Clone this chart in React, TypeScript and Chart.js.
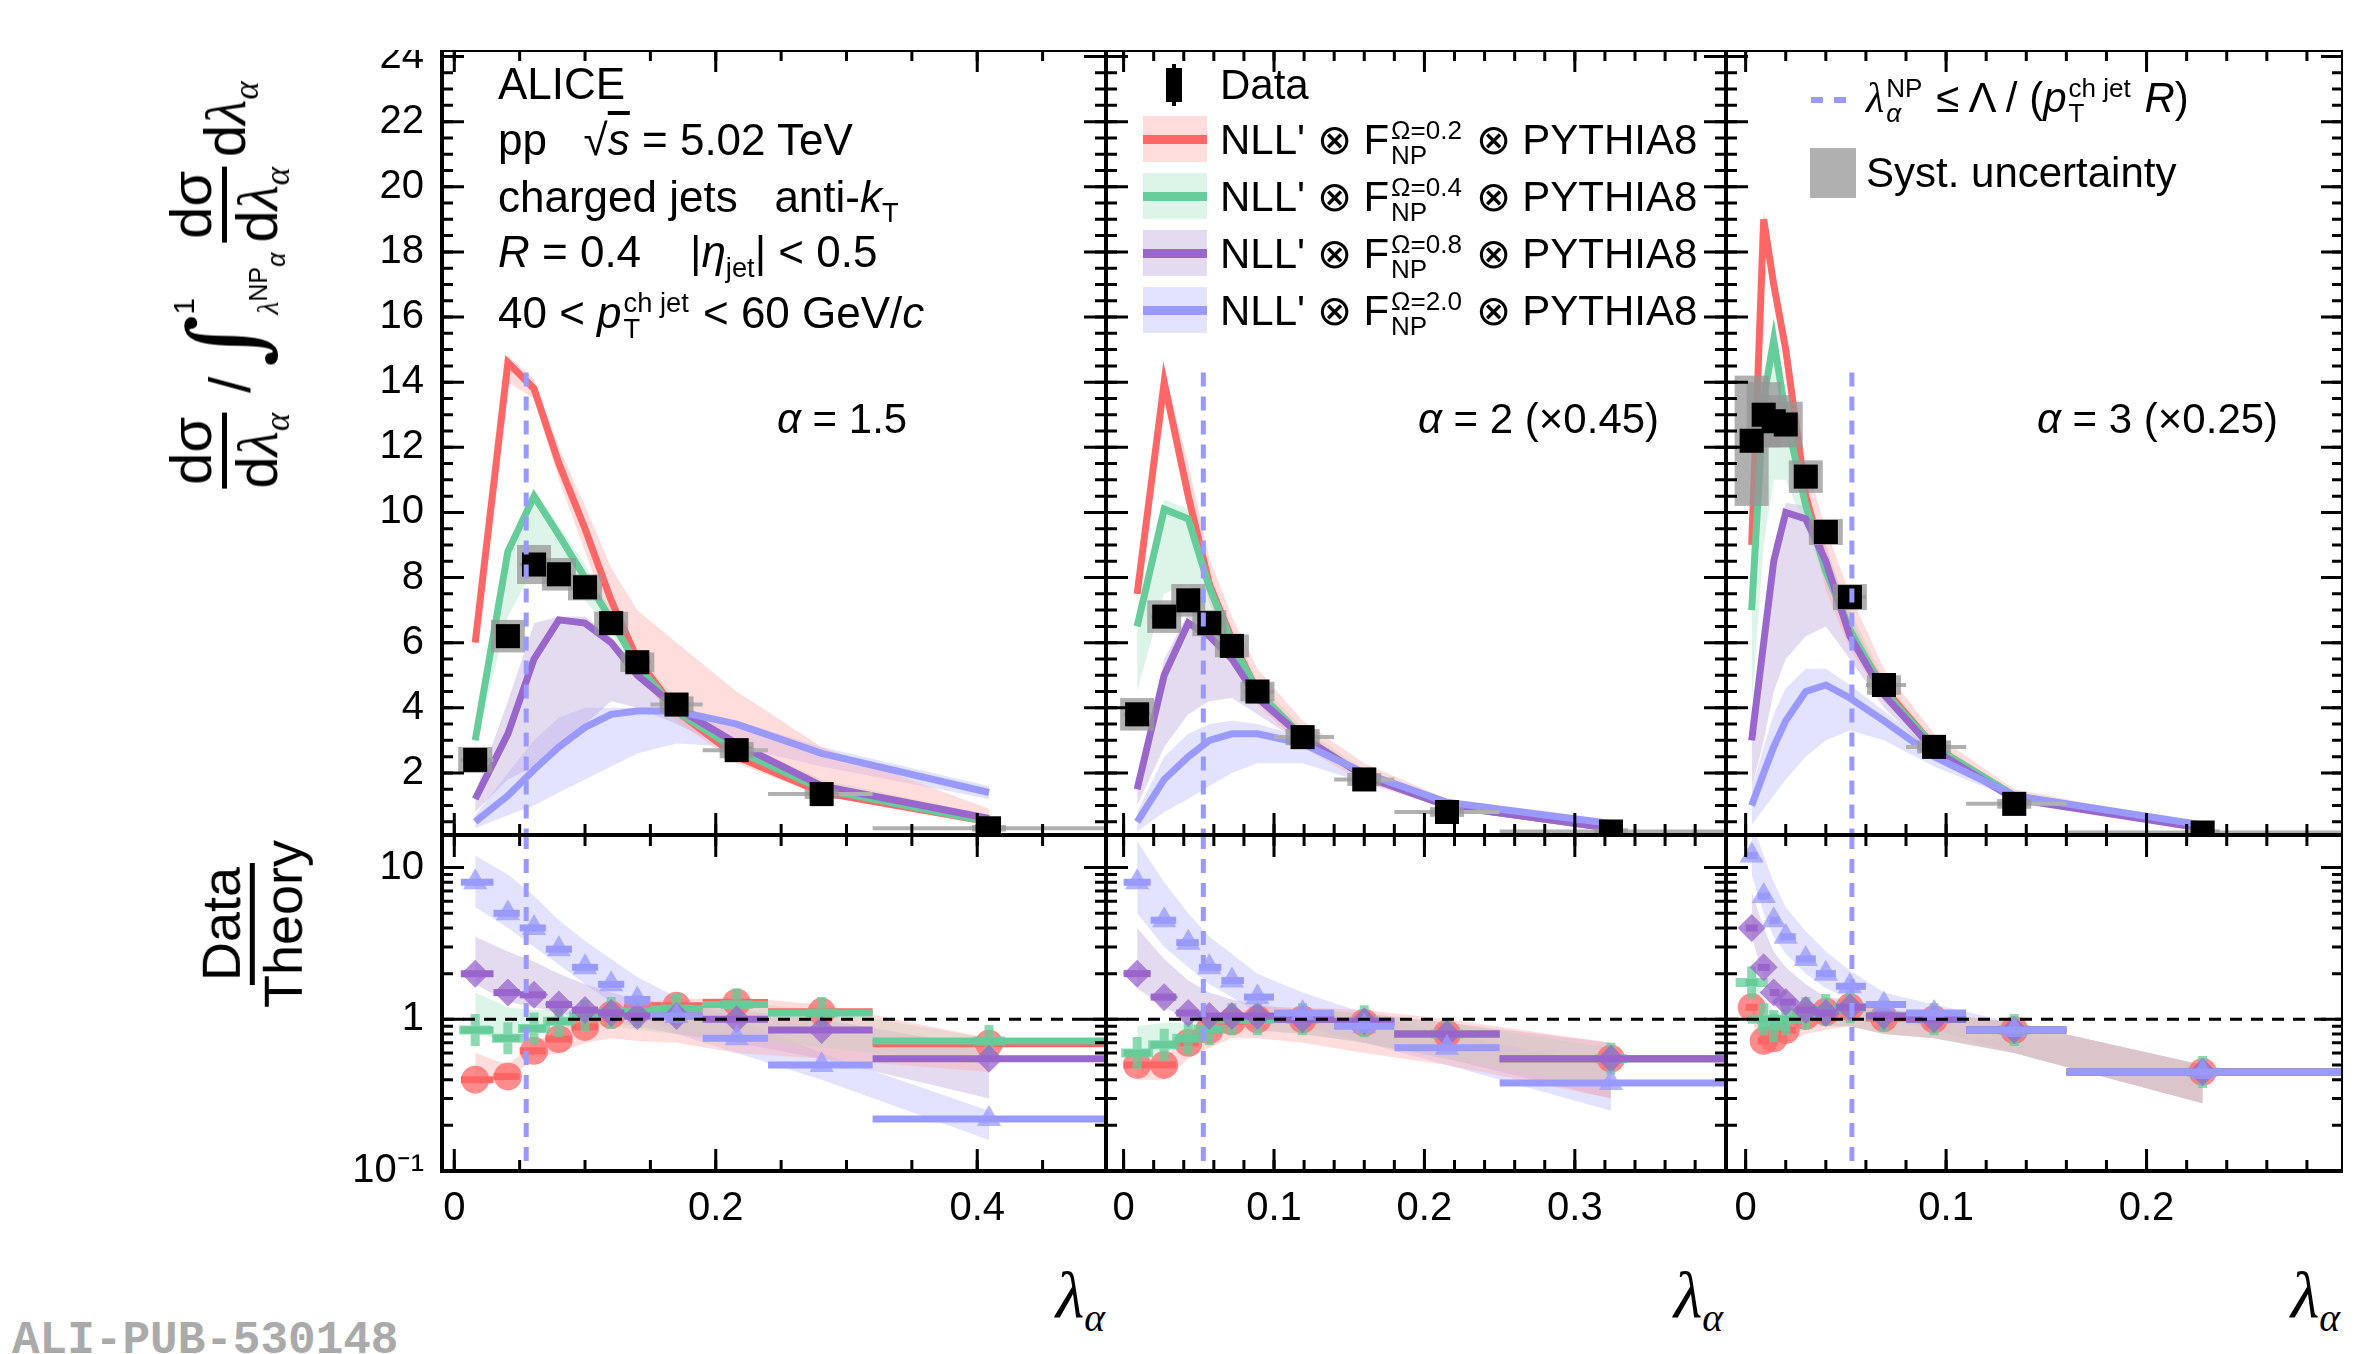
import React, { useEffect, useRef } from 'react';
import { Chart, registerables } from 'chart.js';
Chart.register(...registerables);

const NARROW = '"Liberation Sans Narrow", "Liberation Sans", Arial, sans-serif';
const SANS = '"Liberation Sans", Arial, sans-serif';
const RED = '#ff6666', GREEN = '#66cc99', PURPLE = '#9966cc', BLUE = '#9999ff';
const BANDS = ['rgba(255,170,170,0.40)', 'rgba(170,230,200,0.40)', 'rgba(190,165,220,0.40)', 'rgba(185,185,255,0.40)'];
const COLS = [RED, GREEN, PURPLE, BLUE];
const MARK = ['rgba(255,102,102,0.75)', 'rgba(102,204,153,0.75)', 'rgba(153,102,204,0.75)', 'rgba(153,153,255,0.75)'];

// ---------- Panel 1: alpha = 1.5 ----------
const x1 = [0.016, 0.041, 0.061, 0.080, 0.100, 0.120, 0.140, 0.170, 0.216, 0.281, 0.409];
const edges1 = [0.005, 0.03, 0.05, 0.07, 0.09, 0.11, 0.13, 0.15, 0.19, 0.24, 0.32, 0.5];
const data1 = [2.4, 6.2, 8.4, 8.1, 7.7, 6.6, 5.4, 4.1, 2.7, 1.35, 0.3];
const syst1 = [0.4, 0.5, 0.6, 0.5, 0.4, 0.35, 0.3, 0.25, 0.25, 0.15, 0.1];
const red1 = [6.0, 14.6, 13.8, 11.5, 9.5, 7.3, 5.5, 3.9, 2.5, 1.4, 0.5];
const red1Up = [6.3, 14.8, 14.1, 12.0, 10.2, 8.3, 7.0, 6.0, 4.5, 2.8, 0.9];
const red1Lo = [5.8, 14.0, 13.5, 11.0, 8.8, 6.6, 5.0, 3.6, 2.3, 1.3, 0.4];
const green1 = [3.0, 8.8, 10.5, 9.3, 8.0, 6.7, 5.3, 3.9, 2.7, 1.5, 0.5];
const green1Up = [3.2, 9.0, 10.7, 9.6, 8.4, 7.0, 5.6, 4.3, 3.0, 1.8, 0.7];
const green1Lo = [2.8, 6.8, 8.3, 8.0, 7.3, 6.3, 5.0, 3.7, 2.5, 1.4, 0.5];
const purple1 = [1.2, 3.2, 5.5, 6.7, 6.6, 6.0, 5.0, 4.0, 2.9, 1.6, 0.6];
const purple1Up = [1.4, 4.2, 6.6, 6.8, 6.8, 6.2, 5.2, 4.1, 3.0, 1.7, 0.7];
const purple1Lo = [0.8, 1.8, 2.2, 2.8, 3.5, 4.2, 4.0, 3.5, 2.6, 1.5, 0.5];
const blue1 = [0.5, 1.3, 2.1, 2.8, 3.4, 3.8, 3.9, 3.9, 3.5, 2.6, 1.4];
const blue1Up = [0.7, 2.0, 3.0, 3.7, 4.0, 4.0, 4.0, 3.9, 3.6, 2.8, 1.6];
const blue1Lo = [0.3, 0.7, 1.0, 1.4, 1.8, 2.2, 2.6, 2.9, 2.8, 2.2, 1.2];
const rRed1 = [0.4, 0.42, 0.62, 0.74, 0.89, 1.07, 1.17, 1.23, 1.29, 1.12, 0.69];
const rRed1Up = [0.6, 0.5, 0.7, 0.85, 1.0, 1.15, 1.3, 1.35, 1.4, 1.25, 0.75];
const rRed1Lo = [0.38, 0.4, 0.55, 0.6, 0.7, 0.75, 0.72, 0.7, 0.6, 0.55, 0.45];
const rGreen1 = [0.85, 0.75, 0.87, 0.97, 1.05, 1.1, 1.12, 1.17, 1.25, 1.1, 0.72];
const rGreen1Up = [1.5, 1.2, 1.15, 1.15, 1.15, 1.2, 1.2, 1.25, 1.3, 1.15, 0.75];
const rGreen1Lo = [0.8, 0.72, 0.8, 0.85, 0.9, 0.9, 0.85, 0.8, 0.75, 0.65, 0.5];
const rPurple1 = [2.0, 1.5, 1.45, 1.25, 1.15, 1.1, 1.05, 1.05, 1.0, 0.85, 0.55];
const rPurple1Up = [3.5, 2.8, 2.4, 2.0, 1.7, 1.5, 1.35, 1.25, 1.15, 1.0, 0.65];
const rPurple1Lo = [1.7, 1.3, 1.2, 1.1, 1.0, 0.95, 0.9, 0.8, 0.7, 0.55, 0.3];
const rBlue1 = [8, 5, 4, 2.9, 2.2, 1.7, 1.35, 1.05, 0.75, 0.5, 0.22];
const rBlue1Up = [12, 9, 6.5, 4.5, 3.3, 2.5, 1.9, 1.4, 1.0, 0.6, 0.25];
const rBlue1Lo = [5.5, 4, 3, 2.3, 1.7, 1.3, 1.05, 0.8, 0.6, 0.4, 0.16];

// ---------- Panel 2: alpha = 2 (x0.45) ----------
const x2 = [0.009, 0.027, 0.043, 0.057, 0.072, 0.089, 0.119, 0.160, 0.215, 0.324];
const edges2 = [0, 0.018, 0.035, 0.05, 0.065, 0.08, 0.1, 0.14, 0.18, 0.25, 0.4];
const data2 = [3.8, 6.8, 7.3, 6.6, 5.9, 4.5, 3.1, 1.8, 0.8, 0.2];
const syst2 = [0.5, 0.5, 0.5, 0.4, 0.35, 0.3, 0.25, 0.2, 0.15, 0.1];
const red2 = [7.5, 14.0, 10.5, 7.8, 6.1, 4.5, 3.1, 1.9, 1.0, 0.3];
const red2Up = [8, 14.3, 11.5, 8.6, 6.8, 5.2, 3.6, 2.3, 1.2, 0.5];
const red2Lo = [7.2, 13.6, 10, 7.2, 5.6, 4.1, 2.8, 1.7, 0.9, 0.25];
const green2 = [6.5, 10.1, 9.8, 7.7, 6.0, 4.5, 3.1, 1.9, 1.0, 0.3];
const green2Up = [6.8, 10.4, 10.1, 8.1, 6.4, 4.8, 3.4, 2.1, 1.1, 0.4];
const green2Lo = [4.5, 7.5, 7.8, 6.8, 5.6, 4.3, 3.0, 1.8, 0.9, 0.25];
const purple2 = [1.5, 5.0, 6.6, 6.2, 5.5, 4.3, 3.1, 1.9, 1.0, 0.3];
const purple2Up = [1.8, 5.5, 6.9, 6.6, 5.8, 4.6, 3.3, 2.0, 1.1, 0.4];
const purple2Lo = [1.0, 2.8, 3.8, 4.2, 4.3, 3.8, 2.9, 1.8, 0.9, 0.25];
const blue2 = [0.5, 1.8, 2.5, 3.0, 3.2, 3.2, 2.9, 2.0, 1.1, 0.45];
const blue2Up = [0.8, 2.5, 3.2, 3.5, 3.6, 3.5, 3.1, 2.1, 1.2, 0.5];
const blue2Lo = [0.2, 0.8, 1.2, 1.6, 2.0, 2.3, 2.3, 1.7, 1.0, 0.4];
const rRed2 = [0.5, 0.5, 0.7, 0.85, 0.97, 1.0, 1.0, 0.95, 0.8, 0.55];
const rRed2Up = [0.55, 0.55, 0.8, 1.0, 1.1, 1.2, 1.2, 1.15, 1.0, 0.7];
const rRed2Lo = [0.4, 0.4, 0.55, 0.65, 0.75, 0.75, 0.7, 0.6, 0.5, 0.3];
const rGreen2 = [0.6, 0.68, 0.75, 0.86, 1.0, 1.0, 1.0, 0.97, 0.8, 0.55];
const rGreen2Up = [0.9, 0.95, 0.95, 1.0, 1.1, 1.15, 1.15, 1.1, 0.95, 0.65];
const rGreen2Lo = [0.55, 0.6, 0.68, 0.78, 0.85, 0.85, 0.8, 0.7, 0.55, 0.35];
const rPurple2 = [2.0, 1.4, 1.1, 1.05, 1.05, 1.05, 1.0, 0.97, 0.8, 0.55];
const rPurple2Up = [4, 2.5, 1.8, 1.5, 1.35, 1.25, 1.15, 1.1, 0.95, 0.7];
const rPurple2Lo = [1.6, 1.2, 1.0, 0.9, 0.9, 0.85, 0.8, 0.7, 0.55, 0.3];
const rBlue2 = [8, 4.5, 3.2, 2.2, 1.8, 1.4, 1.1, 0.9, 0.65, 0.38];
const rBlue2Up = [15, 8, 5, 3.5, 2.7, 2.0, 1.5, 1.1, 0.8, 0.5];
const rBlue2Lo = [5, 3, 2.2, 1.7, 1.4, 1.1, 0.9, 0.7, 0.5, 0.25];

// ---------- Panel 3: alpha = 3 (x0.25) ----------
const x3 = [0.003, 0.009, 0.014, 0.020, 0.030, 0.040, 0.052, 0.069, 0.094, 0.134, 0.228];
const edges3 = [0, 0.006, 0.012, 0.017, 0.025, 0.035, 0.045, 0.06, 0.08, 0.11, 0.16, 0.3];
const data3 = [12.2, 13.0, 12.8, 12.7, 11.1, 9.4, 7.4, 4.7, 2.8, 1.05, 0.17];
const syst3 = [2, 1, 0.8, 0.7, 0.5, 0.4, 0.4, 0.3, 0.2, 0.15, 0.1];
const red3 = [9, 19, 17, 15, 10.5, 8.3, 6.3, 4.6, 2.8, 1.3, 0.3];
const red3Up = [10, 19.3, 17.5, 15.5, 11.5, 9.5, 7.5, 5.2, 3.2, 1.5, 0.4];
const red3Lo = [8, 18.5, 16.5, 14.5, 10, 7.6, 5.8, 4.2, 2.6, 1.2, 0.25];
const green3 = [7, 13.5, 15.3, 13, 10.2, 8.2, 6.4, 4.5, 2.8, 1.3, 0.35];
const green3Up = [7.5, 14, 15.6, 13.5, 10.8, 8.8, 7, 4.9, 3, 1.4, 0.4];
const green3Lo = [4, 9, 11, 11, 9.5, 7.8, 6.2, 4.3, 2.7, 1.2, 0.3];
const purple3 = [3, 6, 8.5, 10, 9.8, 8.5, 6.2, 4.4, 2.7, 1.2, 0.3];
const purple3Up = [3.4, 6.5, 9, 10.3, 10.2, 9, 6.8, 4.8, 2.9, 1.3, 0.4];
const purple3Lo = [1.5, 3, 4.5, 5.5, 6.2, 6.5, 5.5, 4, 2.5, 1.1, 0.25];
const blue3 = [1, 2, 2.8, 3.6, 4.5, 4.7, 4.3, 3.6, 2.5, 1.3, 0.4];
const blue3Up = [1.5, 2.8, 3.8, 4.6, 5.2, 5.2, 4.7, 3.9, 2.7, 1.4, 0.45];
const blue3Lo = [0.4, 0.9, 1.3, 1.8, 2.5, 3.0, 3.3, 3.0, 2.2, 1.2, 0.35];
const rRed3 = [1.2, 0.72, 0.75, 0.85, 1.05, 1.12, 1.2, 1.02, 1.0, 0.85, 0.45];
const rRed3Up = [1.4, 0.8, 0.85, 0.95, 1.15, 1.25, 1.35, 1.15, 1.1, 0.95, 0.5];
const rRed3Lo = [1.0, 0.6, 0.65, 0.7, 0.8, 0.85, 0.9, 0.8, 0.75, 0.6, 0.28];
const rGreen3 = [1.75, 1.0, 0.9, 1.0, 1.1, 1.15, 1.2, 1.05, 1.0, 0.85, 0.45];
const rGreen3Up = [2.5, 1.4, 1.15, 1.1, 1.2, 1.25, 1.3, 1.15, 1.1, 0.95, 0.5];
const rGreen3Lo = [1.5, 0.9, 0.8, 0.85, 0.9, 0.9, 0.9, 0.8, 0.75, 0.6, 0.28];
const rPurple3 = [4, 2.2, 1.5, 1.3, 1.15, 1.1, 1.2, 1.05, 1.0, 0.85, 0.45];
const rPurple3Up = [7, 4, 2.8, 2.2, 1.7, 1.4, 1.35, 1.15, 1.1, 0.95, 0.5];
const rPurple3Lo = [3.5, 1.9, 1.3, 1.1, 0.95, 0.9, 0.9, 0.8, 0.75, 0.6, 0.28];
const rBlue3 = [12, 6.5, 4.5, 3.5, 2.5, 2.0, 1.65, 1.25, 1.1, 0.85, 0.45];
const rBlue3Up = [20, 12, 8, 5.5, 3.8, 2.8, 2.1, 1.5, 1.25, 0.95, 0.5];
const rBlue3Lo = [9, 5, 3.5, 2.7, 2, 1.6, 1.35, 1.0, 0.85, 0.6, 0.28];

// tick values
const topYMajor = [2, 4, 6, 8, 10, 12, 14, 16, 18, 20, 22, 24];
const ratioMajor = [0.1, 1, 10];
const xMajor1 = [0, 0.2, 0.4];
const xMajor2 = [0, 0.1, 0.2, 0.3];
const xMajor3 = [0, 0.1, 0.2];
const npCut = [0.055, 0.053, 0.053];

const PANELS = [
  { x: x1, edges: edges1, data: data1, syst: syst1, top: [[red1, red1Up, red1Lo], [green1, green1Up, green1Lo], [purple1, purple1Up, purple1Lo], [blue1, blue1Up, blue1Lo]],
    ratio: [[rRed1, rRed1Up, rRed1Lo], [rGreen1, rGreen1Up, rGreen1Lo], [rPurple1, rPurple1Up, rPurple1Lo], [rBlue1, rBlue1Up, rBlue1Lo]],
    xr: [-0.0094, 0.4985], xMajor: xMajor1, xMinor: 0.05, cols: [442, 1106] },
  { x: x2, edges: edges2, data: data2, syst: syst2, top: [[red2, red2Up, red2Lo], [green2, green2Up, green2Lo], [purple2, purple2Up, purple2Lo], [blue2, blue2Up, blue2Lo]],
    ratio: [[rRed2, rRed2Up, rRed2Lo], [rGreen2, rGreen2Up, rGreen2Lo], [rPurple2, rPurple2Up, rPurple2Lo], [rBlue2, rBlue2Up, rBlue2Lo]],
    xr: [-0.0117, 0.4005], xMajor: xMajor2, xMinor: 0.02, cols: [1106, 1726] },
  { x: x3, edges: edges3, data: data3, syst: syst3, top: [[red3, red3Up, red3Lo], [green3, green3Up, green3Lo], [purple3, purple3Up, purple3Lo], [blue3, blue3Up, blue3Lo]],
    ratio: [[rRed3, rRed3Up, rRed3Lo], [rGreen3, rGreen3Up, rGreen3Lo], [rPurple3, rPurple3Up, rPurple3Lo], [rBlue3, rBlue3Up, rBlue3Lo]],
    xr: [-0.0098, 0.298], xMajor: xMajor3, xMinor: 0.02, cols: [1726, 2343] },
];
const ROWS = [[50, 835], [835, 1171]];

const pts = (xs: number[], ys: number[]) => xs.map((x, i) => ({ x, y: ys[i] }));

function rangeSteps(a: number, b: number, st: number) {
  const out: number[] = [];
  const s = Math.ceil(a / st - 1e-9);
  for (let k = s; k * st <= b + 1e-9; k++) out.push(+(k * st).toFixed(6));
  return out;
}

const decor = {
  id: 'decor',
  beforeDatasetDraw(chart: any, args: any) {
    const ds = chart.data.datasets[args.index];
    const { ctx, scales: { x, y } } = chart;
    const a = chart.chartArea;
    ctx.save();
    ctx.beginPath(); ctx.rect(a.left, a.top, a.right - a.left, a.bottom - a.top); ctx.clip();
    if (ds.syst) {
      const { edges, xs, vals, syst } = ds.syst;
      ctx.strokeStyle = '#b0b0b0'; ctx.lineWidth = 4;
      vals.forEach((v: number, i: number) => {
        const py = y.getPixelForValue(v);
        ctx.beginPath(); ctx.moveTo(x.getPixelForValue(edges[i]), py); ctx.lineTo(x.getPixelForValue(edges[i + 1]), py); ctx.stroke();
      });
      ctx.fillStyle = 'rgba(150,150,150,0.75)';
      vals.forEach((v: number, i: number) => {
        const px = x.getPixelForValue(xs[i]);
        const t = y.getPixelForValue(v + syst[i]), b = y.getPixelForValue(Math.max(v - syst[i], 0.01));
        ctx.fillRect(px - 17, t, 34, b - t);
      });
    }
    if (ds.bars) {
      const { edges, vals, color } = ds.bars;
      ctx.strokeStyle = color; ctx.lineWidth = 7;
      vals.forEach((v: number, i: number) => {
        const py = y.getPixelForValue(v);
        ctx.beginPath(); ctx.moveTo(x.getPixelForValue(edges[i]), py); ctx.lineTo(x.getPixelForValue(edges[i + 1]), py); ctx.stroke();
      });
    }
    ctx.restore();
  },
  afterDatasetsDraw(chart: any, _a: any, opts: any) {
    const { ctx, scales: { x, y } } = chart;
    const a = chart.chartArea;
    ctx.save();
    if (opts.one) {
      const py = y.getPixelForValue(1);
      ctx.setLineDash([12, 9]); ctx.strokeStyle = '#000'; ctx.lineWidth = 3;
      ctx.beginPath(); ctx.moveTo(a.left, py); ctx.lineTo(a.right, py); ctx.stroke();
    }
    const px = x.getPixelForValue(opts.cut);
    ctx.setLineDash([14, 10]); ctx.strokeStyle = BLUE; ctx.lineWidth = 5;
    ctx.beginPath(); ctx.moveTo(px, opts.cutFromTop ? y.getPixelForValue(14.3) : a.top); ctx.lineTo(px, a.bottom); ctx.stroke();
    ctx.setLineDash([]);
    ctx.strokeStyle = '#000'; ctx.lineWidth = 4;
    ctx.strokeRect(a.left, a.top, a.right - a.left, a.bottom - a.top);
    ctx.lineWidth = 3;
    const drawX = (v: number, len: number) => {
      const p = x.getPixelForValue(v);
      if (p < a.left + 2 || p > a.right - 2) return;
      ctx.beginPath(); ctx.moveTo(p, a.bottom); ctx.lineTo(p, a.bottom - len); ctx.moveTo(p, a.top); ctx.lineTo(p, a.top + len); ctx.stroke();
    };
    const drawY = (v: number, len: number) => {
      const p = y.getPixelForValue(v);
      if (p < a.top + 2 || p > a.bottom - 2) return;
      ctx.beginPath(); ctx.moveTo(a.left, p); ctx.lineTo(a.left + len, p); ctx.moveTo(a.right, p); ctx.lineTo(a.right - len, p); ctx.stroke();
    };
    rangeSteps(x.min, x.max, opts.xMinor).forEach((v) => drawX(v, 11));
    opts.xMajor.forEach((v: number) => drawX(v, 22));
    if (opts.log) {
      [0.1, 1, 10].forEach((d) => [2, 3, 4, 5, 6, 7, 8, 9].forEach((m) => drawY(d * m, 11)));
      ratioMajor.forEach((v) => drawY(v, 22));
    } else {
      rangeSteps(y.min, y.max, 0.5).forEach((v) => drawY(v, 11));
      topYMajor.forEach((v) => drawY(v, 22));
    }
    ctx.restore();
  },
};

function makeConfig(pi: number, row: number, padL: number, padB: number) {
  const P = PANELS[pi];
  const ds: any[] = [];
  const sets = row === 0 ? P.top : P.ratio;
  if (row === 0) {
    ds.push({ data: pts(P.x, P.data), showLine: false, pointStyle: 'rect', pointRadius: 17, pointBackgroundColor: '#000', pointBorderWidth: 0, order: 0,
      syst: { edges: P.edges, xs: P.x, vals: P.data, syst: P.syst } });
  }
  [0, 1, 2, 3].forEach((k) => {
    const [c, up, lo] = sets[k];
    const upIdx = ds.length;
    ds.push({ data: pts(P.x, up), borderWidth: 0, pointRadius: 0, fill: false, order: 20 + k });
    ds.push({ data: pts(P.x, lo), borderWidth: 0, pointRadius: 0, fill: upIdx, backgroundColor: BANDS[k], order: 20 + k });
    if (row === 0) {
      ds.push({ data: pts(P.x, c), borderColor: COLS[k], borderWidth: 7, pointRadius: 0, fill: false, order: 10 - k });
    } else {
      const style = ['circle', 'cross', 'rectRot', 'triangle'][k];
      ds.push({ data: pts(P.x, c), showLine: false, pointStyle: style, pointRadius: k === 1 ? 16 : 14,
        pointBackgroundColor: MARK[k], pointBorderColor: k === 1 ? MARK[k] : 'rgba(0,0,0,0)', pointBorderWidth: k === 1 ? 9 : 0,
        order: 8 - k, bars: { edges: P.edges, vals: c, color: COLS[k] } });
    }
  });
  const tickFont = { family: NARROW, size: 40 };
  return {
    type: 'line',
    data: { datasets: ds },
    options: {
      responsive: false, animation: false, devicePixelRatio: 1,
      layout: { autoPadding: false, padding: 0 },
      plugins: { legend: { display: false }, tooltip: { enabled: false },
        decor: { one: row === 1, log: row === 1, cut: npCut[pi], cutFromTop: row === 0, xMajor: P.xMajor, xMinor: P.xMinor } },
      scales: {
        x: { type: 'linear', min: P.xr[0], max: P.xr[1], grid: { display: false }, border: { display: false },
          ticks: { display: row === 1, font: tickFont, color: '#000', padding: 6, maxRotation: 0, autoSkip: false,
            callback: (v: number) => (Math.abs(v) < 1e-9 ? '0' : (+v).toFixed(1)) },
          afterBuildTicks: (s: any) => { s.ticks = P.xMajor.map((v: number) => ({ value: v })); },
          afterFit: (s: any) => { s.height = padB; s.paddingLeft = 0; s.paddingRight = 0; } },
        y: row === 0
          ? { type: 'linear', min: 0.094, max: 24.2, grid: { display: false }, border: { display: false },
              ticks: { display: pi === 0, font: tickFont, color: '#000', padding: 10, autoSkip: false },
              afterBuildTicks: (s: any) => { s.ticks = topYMajor.map((v) => ({ value: v })); },
              afterFit: (s: any) => { s.width = padL; s.paddingTop = 0; s.paddingBottom = 0; } }
          : { type: 'logarithmic', min: 0.1, max: 16.4, grid: { display: false }, border: { display: false },
              ticks: { display: pi === 0, font: tickFont, color: '#000', padding: 10, autoSkip: false,
                callback: (v: number) => (v === 0.1 ? '10⁻¹' : v === 1 ? '1' : '10') },
              afterBuildTicks: (s: any) => { s.ticks = ratioMajor.map((v) => ({ value: v })); },
              afterFit: (s: any) => { s.width = padL; s.paddingTop = 0; s.paddingBottom = 0; } },
      },
    },
    plugins: [decor],
  };
}

function Panel({ pi, row }: { pi: number; row: number }) {
  const ref = useRef<HTMLCanvasElement>(null);
  const [x0, x1_] = PANELS[pi].cols;
  const [y0, y1] = ROWS[row];
  const padL = pi === 0 ? 170 : 0;
  const padB = row === 1 ? 70 : 0;
  const w = x1_ - x0 + padL, h = y1 - y0 + padB;
  useEffect(() => {
    const c = new Chart(ref.current as any, makeConfig(pi, row, padL, padB) as any);
    return () => c.destroy();
  }, []);
  return <canvas ref={ref} width={w} height={h} style={{ position: 'absolute', left: x0 - padL, top: y0, width: w, height: h }} />;
}

const SS = ({ sup, sub }: { sup: any; sub: any }) => (
  <span style={{ display: 'inline-flex', flexDirection: 'column', verticalAlign: 'middle', fontSize: '0.62em', lineHeight: 0.95, margin: '0 2px' }}>
    <span>{sup}</span><span>{sub}</span>
  </span>
);
const Frac = ({ n, d }: { n: any; d: any }) => (
  <span style={{ display: 'inline-flex', flexDirection: 'column', alignItems: 'center', verticalAlign: 'middle', lineHeight: 1.05, margin: '0 6px' }}>
    <span style={{ borderBottom: '5px solid #000', padding: '0 4px' }}>{n}</span><span style={{ padding: '0 4px' }}>{d}</span>
  </span>
);
const dl = <span>d<i style={{ fontFamily: '"Liberation Serif", serif' }}>λ</i><sub style={{ fontSize: '0.6em' }}><i style={{ fontFamily: '"Liberation Serif", serif' }}>α</i></sub></span>;

const txt = (left: number, top: number, size: number, content: any, extra: any = {}) => (
  <div style={{ position: 'absolute', left, top, fontFamily: NARROW, fontSize: size, lineHeight: 1, whiteSpace: 'nowrap', color: '#000', ...extra }}>{content}</div>
);

const legendRows = ['0.2', '0.4', '0.8', '2.0'];

export default function App() {
  return (
    <div style={{ position: 'absolute', left: 0, top: 0, width: 2363, height: 1354, background: '#fff', overflow: 'hidden' }}>
      {[0, 1, 2].map((pi) => [0, 1].map((row) => <Panel key={pi + '-' + row} pi={pi} row={row} />))}
      {txt(498, 62, 44, 'ALICE')}
      {txt(498, 118, 44, <span>pp&nbsp;&nbsp;&nbsp;√<span style={{ textDecoration: 'overline' }}><i>s</i></span> = 5.02 TeV</span>)}
      {txt(498, 175, 44, <span>charged jets&nbsp;&nbsp;&nbsp;anti-<i>k</i><sub style={{ fontSize: '0.62em' }}>T</sub></span>)}
      {txt(498, 230, 44, <span><i>R</i> = 0.4&nbsp;&nbsp;&nbsp;&nbsp;|<i>η</i><sub style={{ fontSize: '0.62em' }}>jet</sub>| &lt; 0.5</span>)}
      {txt(498, 290, 44, <span>40 &lt; <i>p</i><SS sup="ch jet" sub="T" /> &lt; 60 GeV/<i>c</i></span>)}
      {txt(777, 398, 42, <span><i>α</i> = 1.5</span>)}
      {txt(1418, 398, 42, <span><i>α</i> = 2 (×0.45)</span>)}
      {txt(2037, 398, 42, <span><i>α</i> = 3 (×0.25)</span>)}
      <div style={{ position: 'absolute', left: 1166, top: 68, width: 16, height: 34, background: '#000' }} />
      <div style={{ position: 'absolute', left: 1172, top: 64, width: 4, height: 42, background: '#000' }} />
      {txt(1220, 64, 42, 'Data')}
      {legendRows.map((o, k) => (
        <React.Fragment key={o}>
          <div style={{ position: 'absolute', left: 1143, top: 116 + k * 57, width: 64, height: 46, background: BANDS[k] }} />
          <div style={{ position: 'absolute', left: 1143, top: 135 + k * 57, width: 64, height: 9, background: COLS[k] }} />
          {txt(1220, 118 + k * 57, 42, <span>NLL' ⊗ F<SS sup={'Ω=' + o} sub="NP" /> ⊗ PYTHIA8</span>)}
        </React.Fragment>
      ))}
      <div style={{ position: 'absolute', left: 1811, top: 97, width: 12, height: 6, background: BLUE }} />
      <div style={{ position: 'absolute', left: 1834, top: 97, width: 12, height: 6, background: BLUE }} />
      {txt(1866, 76, 42, <span><i style={{ fontFamily: '"Liberation Serif", serif' }}>λ</i><SS sup="NP" sub={<i>α</i>} /> ≤ Λ / (<i>p</i><SS sup="ch jet" sub="T" /> <i>R</i>)</span>)}
      <div style={{ position: 'absolute', left: 1810, top: 148, width: 46, height: 50, background: '#b0b0b0' }} />
      {txt(1866, 152, 42, 'Syst. uncertainty')}
      <div style={{ position: 'absolute', left: 229, top: 290, transform: 'translate(-50%,-50%) rotate(-90deg)', fontFamily: SANS, fontSize: 58, whiteSpace: 'nowrap', display: 'flex', alignItems: 'center' }}>
        <Frac n="dσ" d={dl} />
        <span style={{ margin: '0 10px' }}>/</span>
        <span style={{ display: 'inline-flex', alignItems: 'center' }}>
          <span style={{ fontSize: 100, fontFamily: '"DejaVu Serif", serif', position: 'relative', top: -4 }}>∫</span>
          <span style={{ display: 'inline-flex', flexDirection: 'column', fontSize: 30, lineHeight: 1, height: 120, justifyContent: 'space-between' }}>
            <span>1</span><span><i style={{ fontFamily: '"Liberation Serif", serif' }}>λ</i><sup>NP</sup><sub><i>α</i></sub></span>
          </span>
        </span>
        <Frac n="dσ" d={dl} />
        {dl}
      </div>
      <div style={{ position: 'absolute', left: 252, top: 924, transform: 'translate(-50%,-50%) rotate(-90deg)', fontFamily: SANS, fontSize: 54, whiteSpace: 'nowrap' }}>
        <Frac n="Data" d="Theory" />
      </div>
      {[1105, 1723, 2340].map((r) => (
        <div key={r} style={{ position: 'absolute', left: r - 80, top: 1262, width: 80, textAlign: 'right', fontFamily: '"Liberation Serif", serif', fontStyle: 'italic', fontSize: 66, lineHeight: 1 }}>
          λ<sub style={{ fontSize: '0.6em' }}>α</sub>
        </div>
      ))}
      <div style={{ position: 'absolute', left: 12, top: 1318, fontFamily: '"Liberation Mono", monospace', fontWeight: 'bold', fontSize: 46, color: '#aaaaaa', lineHeight: 1 }}>ALI-PUB-530148</div>
    </div>
  );
}
